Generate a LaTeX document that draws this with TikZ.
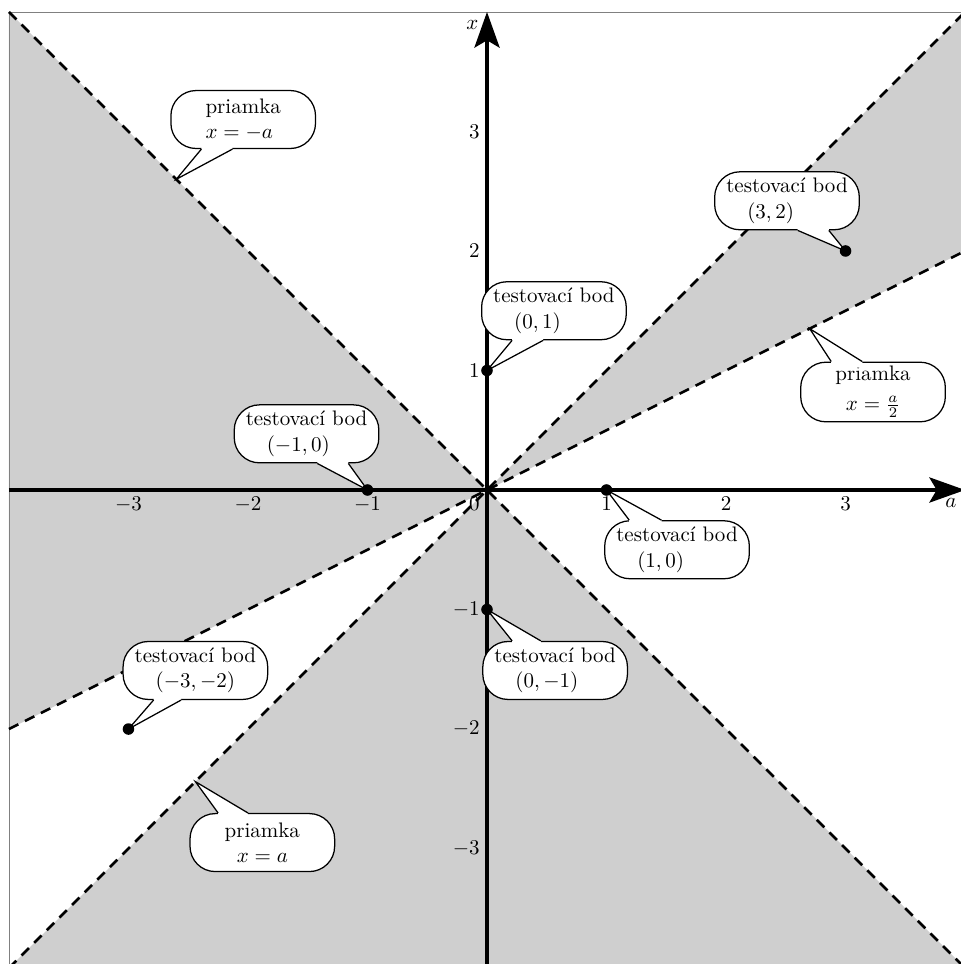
\documentclass[tikz,border=0pt]{standalone}
\usetikzlibrary{arrows.meta,calc}

\tikzset{
  tien/.style={fill=black!19},
  hranica/.style={line width=1.2pt, dash pattern=on 5pt off 3.5pt},
  os/.style={line width=1.6pt, -{Stealth[length=17pt,width=12pt,inset=3.5pt]}},
  bublina/.style={draw, line width=0.6pt, fill=white, rounded corners=12pt,
    minimum width=2.42cm, minimum height=0.97cm, inner xsep=5pt, inner ysep=2pt, align=center},
  testbod/.style={bublina, align=left},
  jazyk/.style={line width=0.6pt},
}

\begin{document}
\begin{tikzpicture}[x=2cm,y=2cm]
  \useasboundingbox (-4.075,-3.966) rectangle (3.958,4.1);

  % oblasti
  \fill[tien] (0,0) -- (-4,4) -- (-4,-2) -- cycle;
  \fill[tien] (0,0) -- (4,4) -- (4,2) -- cycle;
  \fill[tien] (0,0) -- (-4,-4) -- (4,-4) -- cycle;
  \draw[gray, very thin] (-4,-4) rectangle (4,4);

  % priamky
  \draw[hranica] (-4,4) -- (4,-4);
  \draw[hranica] (-4,-4) -- (4,4);
  \draw[hranica] (-4,-2) -- (4,2);

  % osi
  \draw[os] (-4,0) -- (4,0) node[below left] (oa) {$a$};
  \draw[os] (0,-4) -- (0,4) node[below left] (ox) {$x$};
  \node[below left] (n0) at (0,0) {$0$};
  \node[below] (na1) at (1,0) {$1$};
  \node[below] (na2) at (2,0) {$2$};
  \node[below] (na3) at (3,0) {$3$};
  \node[below] (nam1) at (-1,0) {$-1$};
  \node[below] (nam2) at (-2,0) {$-2$};
  \node[below] (nam3) at (-3,0) {$-3$};
  \node[left] (nx1) at (0,1) {$1$};
  \node[left] (nx2) at (0,2) {$2$};
  \node[left] (nx3) at (0,3) {$3$};
  \node[left] (nxm1) at (0,-1) {$-1$};
  \node[left] (nxm2) at (0,-2) {$-2$};
  \node[left] (nxm3) at (0,-3) {$-3$};

  % testovacie body a body na priamkach
  \coordinate (b01) at (0,1);
  \coordinate (b0m1) at (0,-1);
  \coordinate (b10) at (1,0);
  \coordinate (bm10) at (-1,0);
  \coordinate (b32) at (3,2);
  \coordinate (bm3m2) at (-3,-2);
  \coordinate (l1) at (-2.6,2.6);
  \coordinate (l2) at (2.7,1.35);
  \coordinate (l3) at (-2.44,-2.44);

  % bubliny
  \node[bublina, align=left] (c1) at (-2.04,3.10) {priamka\\ $x=-a$};
  \fill[white] ($(c1.south)+(-0.35,0)$) -- (l1) -- ($(c1.south)+(-0.09,0)$) -- ++(0,0.05) -- ($(c1.south)+(-0.35,0.05)$) -- cycle;
  \draw[jazyk] ($(c1.south)+(-0.35,0)$) -- (l1) -- ($(c1.south)+(-0.09,0)$);

  \node[testbod] (c2) at (2.51,2.42) {testovací bod\\ \quad$(3,2)$};
  \fill[white] ($(c2.south)+(0.09,0)$) -- (b32) -- ($(c2.south)+(0.35,0)$) -- ++(0,0.05) -- ($(c2.south)+(0.09,0.05)$) -- cycle;
  \draw[jazyk] ($(c2.south)+(0.09,0)$) -- (b32) -- ($(c2.south)+(0.35,0)$);

  \node[testbod] (c3) at (0.56,1.50) {testovací bod\\ \quad$(0,1)$};
  \fill[white] ($(c3.south)+(-0.35,0)$) -- (b01) -- ($(c3.south)+(-0.09,0)$) -- ++(0,0.05) -- ($(c3.south)+(-0.35,0.05)$) -- cycle;
  \draw[jazyk] ($(c3.south)+(-0.35,0)$) -- (b01) -- ($(c3.south)+(-0.09,0)$);

  \node[bublina] (c4) at (3.23,0.82) {priamka\\[2pt] $x=\frac{a}{2}$};
  \fill[white] ($(c4.north)+(-0.35,0)$) -- (l2) -- ($(c4.north)+(-0.09,0)$) -- ++(0,-0.05) -- ($(c4.north)+(-0.35,-0.05)$) -- cycle;
  \draw[jazyk] ($(c4.north)+(-0.35,0)$) -- (l2) -- ($(c4.north)+(-0.09,0)$);

  \node[testbod] (c5) at (-1.51,0.47) {testovací bod\\ \quad$(-1,0)$};
  \fill[white] ($(c5.south)+(0.09,0)$) -- (bm10) -- ($(c5.south)+(0.35,0)$) -- ++(0,0.05) -- ($(c5.south)+(0.09,0.05)$) -- cycle;
  \draw[jazyk] ($(c5.south)+(0.09,0)$) -- (bm10) -- ($(c5.south)+(0.35,0)$);

  \node[testbod] (c6) at (1.59,-0.50) {testovací bod\\ \quad$(1,0)$};
  \fill[white] ($(c6.north)+(-0.40,0)$) -- (b10) -- ($(c6.north)+(-0.13,0)$) -- ++(0,-0.05) -- ($(c6.north)+(-0.40,-0.05)$) -- cycle;
  \draw[jazyk] ($(c6.north)+(-0.40,0)$) -- (b10) -- ($(c6.north)+(-0.13,0)$);

  \node[testbod] (c7) at (0.57,-1.51) {testovací bod\\ \quad$(0,-1)$};
  \fill[white] ($(c7.north)+(-0.36,0)$) -- (b0m1) -- ($(c7.north)+(-0.12,0)$) -- ++(0,-0.05) -- ($(c7.north)+(-0.36,-0.05)$) -- cycle;
  \draw[jazyk] ($(c7.north)+(-0.36,0)$) -- (b0m1) -- ($(c7.north)+(-0.12,0)$);

  \node[testbod] (c8) at (-2.44,-1.51) {testovací bod\\ \quad$(-3,-2)$};
  \fill[white] ($(c8.south)+(-0.35,0)$) -- (bm3m2) -- ($(c8.south)+(-0.12,0)$) -- ++(0,0.05) -- ($(c8.south)+(-0.35,0.05)$) -- cycle;
  \draw[jazyk] ($(c8.south)+(-0.35,0)$) -- (bm3m2) -- ($(c8.south)+(-0.12,0)$);

  \node[bublina] (c9) at (-1.88,-2.95) {priamka\\ $x=a$};
  \fill[white] ($(c9.north)+(-0.37,0)$) -- (l3) -- ($(c9.north)+(-0.12,0)$) -- ++(0,-0.05) -- ($(c9.north)+(-0.37,-0.05)$) -- cycle;
  \draw[jazyk] ($(c9.north)+(-0.37,0)$) -- (l3) -- ($(c9.north)+(-0.12,0)$);

  % body
  \fill (b01) circle (2.75pt);
  \fill (b0m1) circle (2.75pt);
  \fill (b10) circle (2.75pt);
  \fill (bm10) circle (2.75pt);
  \fill (b32) circle (2.75pt);
  \fill (bm3m2) circle (2.75pt);
\end{tikzpicture}
\end{document}
